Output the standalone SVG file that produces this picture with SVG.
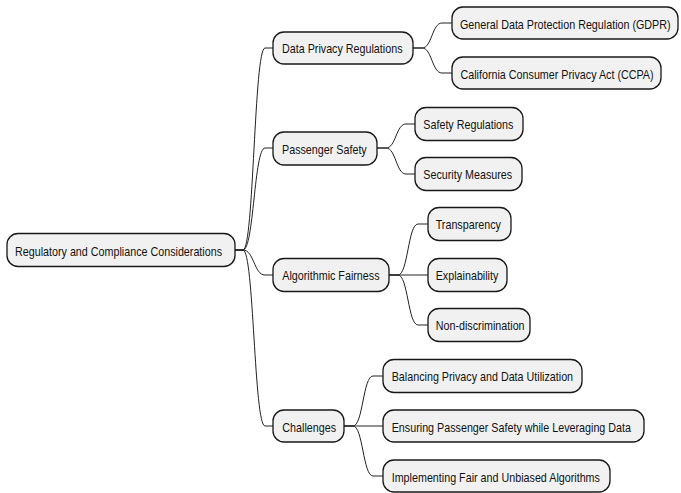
<svg xmlns="http://www.w3.org/2000/svg" width="681" height="493" viewBox="0 0 681 493">
<style>
.n rect{fill:#F1F1F1;stroke:#181818;stroke-width:1.3}
.n text{font-family:"Liberation Sans",Arial,sans-serif;font-size:12.5px;fill:#111}
#edges path{fill:none;stroke:#222;stroke-width:1}
</style>
<rect width="681" height="493" fill="#FFFFFF"/>
<g id="edges">
<path d="M235,250 H243 C254,250 254,48 265,48 H273"/>
<path d="M235,250 H243 C254,250 254,148 265,148 H273"/>
<path d="M235,250 H243 C254,250 254,275 265,275 H273"/>
<path d="M235,250 H243 C254,250 254,426 265,426 H273"/>
<path d="M413,48 H422 C432,48 432,23 442,23 H452"/>
<path d="M413,48 H422 C432,48 432,73 442,73 H452"/>
<path d="M377,148 H386 C396,148 396,124 406,124 H415"/>
<path d="M377,148 H386 C396,148 396,174 406,174 H415"/>
<path d="M389,275 H398 C408,275 408,224 418,224 H428"/>
<path d="M389,275 H398 C408,275 408,275 418,275 H428"/>
<path d="M389,275 H398 C408,275 408,325 418,325 H428"/>
<path d="M344,426 H353 C363,426 363,376 373,376 H383"/>
<path d="M344,426 H353 C363,426 363,426 373,426 H383"/>
<path d="M344,426 H353 C363,426 363,476 373,476 H383"/>
</g>
<g id="root" class="n"><rect x="7" y="233.5" width="228" height="33" rx="11"/><text transform="translate(15,255.5) scale(0.86,1)">Regulatory and Compliance Considerations</text></g>
<g id="dpr" class="n"><rect x="273" y="32" width="140" height="32" rx="11"/><text transform="translate(282,53.3) scale(0.86,1)">Data Privacy Regulations</text></g>
<g id="gdpr" class="n"><rect x="452" y="7" width="226" height="32" rx="11"/><text transform="translate(460,28.5) scale(0.86,1)">General Data Protection Regulation (GDPR)</text></g>
<g id="ccpa" class="n"><rect x="452" y="57" width="209" height="32" rx="11"/><text transform="translate(460.5,78.5) scale(0.86,1)">California Consumer Privacy Act (CCPA)</text></g>
<g id="ps" class="n"><rect x="273" y="132" width="104" height="33" rx="11"/><text transform="translate(282,153.8) scale(0.86,1)">Passenger Safety</text></g>
<g id="sr" class="n"><rect x="415" y="107.5" width="108" height="33" rx="11"/><text transform="translate(423.3,129.3) scale(0.86,1)">Safety Regulations</text></g>
<g id="sm" class="n"><rect x="415" y="157.5" width="107" height="33" rx="11"/><text transform="translate(423.3,179.3) scale(0.86,1)">Security Measures</text></g>
<g id="af" class="n"><rect x="273" y="258.5" width="116" height="33" rx="11"/><text transform="translate(282.3,280.3) scale(0.86,1)">Algorithmic Fairness</text></g>
<g id="tr" class="n"><rect x="428" y="207.5" width="83" height="33" rx="11"/><text transform="translate(435.7,229.3) scale(0.86,1)">Transparency</text></g>
<g id="ex" class="n"><rect x="428" y="258.5" width="79" height="33" rx="11"/><text transform="translate(435.7,280.3) scale(0.86,1)">Explainability</text></g>
<g id="nd" class="n"><rect x="428" y="308.5" width="102" height="33" rx="11"/><text transform="translate(435.7,330.3) scale(0.86,1)">Non-discrimination</text></g>
<g id="ch" class="n"><rect x="273" y="410" width="71" height="32" rx="11"/><text transform="translate(282.3,431.5) scale(0.86,1)">Challenges</text></g>
<g id="bp" class="n"><rect x="383" y="359.5" width="199" height="33" rx="11"/><text transform="translate(391.7,381.3) scale(0.86,1)">Balancing Privacy and Data Utilization</text></g>
<g id="es" class="n"><rect x="383" y="410" width="261" height="32" rx="11"/><text transform="translate(391.7,431.5) scale(0.86,1)">Ensuring Passenger Safety while Leveraging Data</text></g>
<g id="im" class="n"><rect x="383" y="460" width="227" height="32" rx="11"/><text transform="translate(391.7,481.5) scale(0.86,1)">Implementing Fair and Unbiased Algorithms</text></g>
</svg>
